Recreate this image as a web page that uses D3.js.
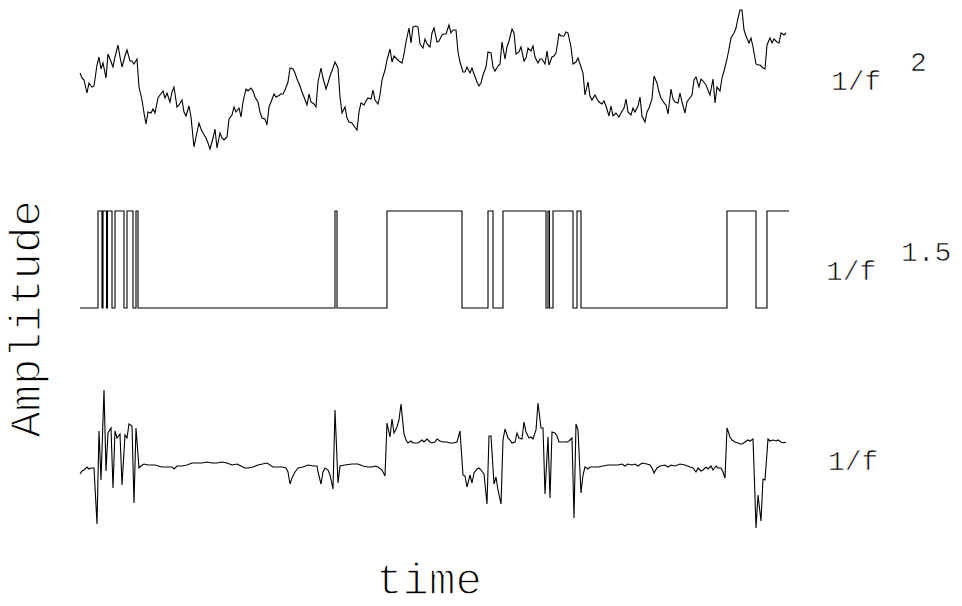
<!DOCTYPE html>
<html><head><meta charset="utf-8">
<script src="https://cdn.jsdelivr.net/npm/d3@7"></script>
<style>html,body{margin:0;padding:0;background:#fff;}svg{display:block;}</style>
</head><body>
<script>
// time (samples) and amplitude for each noise series
const brownNoise = [[0,77],[2,72],[4,70],[7,57],[9,67],[12,63],[14,64],[17,85],[19,93],[21,81],[23,87],[26,72],[28,96],[30,91],[33,83],[35,93],[38,105],[40,93],[42,83],[45,94],[47,100],[50,89],[52,89],[54,86],[57,91],[59,63],[62,50],[64,37],[66,26],[68,38],[71,37],[73,41],[75,37],[78,52],[80,55],[83,59],[85,52],[87,57],[90,48],[92,58],[94,63],[97,43],[99,45],[102,50],[104,38],[106,34],[109,44],[111,33],[114,3],[116,13],[119,27],[121,21],[123,17],[126,12],[128,7],[130,1],[133,12],[135,21],[137,2],[140,17],[142,12],[144,10],[147,13],[149,31],[152,35],[154,43],[156,38],[159,42],[161,33],[163,48],[166,61],[168,59],[171,62],[173,59],[175,53],[178,48],[180,38],[182,32],[185,31],[187,25],[189,43],[191,48],[194,56],[196,53],[198,54],[201,56],[203,56],[205,60],[208,68],[210,82],[213,81],[215,77],[217,71],[220,64],[222,58],[224,53],[227,45],[229,56],[231,48],[234,46],[236,43],[238,68],[241,82],[243,72],[246,61],[248,67],[250,74],[253,82],[255,88],[258,82],[260,53],[262,37],[265,43],[267,32],[269,28],[272,27],[274,24],[277,20],[279,38],[281,47],[284,45],[286,49],[288,52],[291,51],[293,60],[295,50],[298,46],[300,55],[302,70],[305,80],[307,90],[310,101],[312,88],[314,94],[317,91],[319,89],[322,87],[324,96],[326,108],[329,122],[331,107],[333,123],[336,124],[338,123],[340,106],[343,102],[345,111],[347,106],[350,103],[352,117],[354,122],[357,108],[359,109],[362,115],[364,116],[366,116],[369,125],[371,117],[373,120],[376,120],[378,98],[380,88],[383,78],[385,78],[387,83],[390,77],[392,82],[394,76],[397,68],[399,64],[401,67],[403,75],[406,83],[408,98],[411,97],[413,83],[415,79],[418,84],[420,86],[422,108],[425,91],[427,103],[429,109],[432,121],[434,117],[436,96],[439,98],[441,103],[444,89],[446,92],[448,102],[451,99],[453,104],[455,93],[458,87],[460,91],[462,91],[465,86],[467,99],[469,85],[472,93],[474,94],[476,97],[479,116],[481,114],[484,114],[486,118],[488,117],[491,103],[493,86],[496,88],[498,92],[501,83],[503,77],[505,55],[508,68],[510,54],[512,50],[515,55],[517,51],[519,48],[522,46],[524,49],[526,44],[529,34],[531,44],[533,34],[536,37],[539,33],[541,37],[544,42],[546,51],[548,38],[551,35],[553,42],[555,38],[558,44],[560,53],[562,34],[565,28],[567,38],[569,42],[572,51],[574,74],[577,67],[579,58],[581,52],[584,47],[586,45],[588,36],[591,61],[593,51],[595,48],[598,47],[600,57],[602,48],[605,37],[607,48],[609,51],[612,55],[614,70],[616,73],[619,63],[621,71],[623,69],[626,65],[628,60],[630,55],[633,71],[635,47],[637,63],[640,59],[642,72],[644,79],[647,91],[649,101],[651,112],[654,117],[656,122],[658,132],[660,140],[662,140],[664,120],[666,114],[669,107],[671,112],[673,103],[676,86],[678,85],[680,85],[683,82],[685,81],[687,105],[690,112],[692,107],[694,111],[697,108],[699,107],[701,117],[704,115],[706,117]];

// two-state signal: times at which the level toggles (starts low), and end time
const telegraphToggles = [18,22,23,26.5,27.5,32,35,44,47,53,56,58,255,257,307,382,408,413,423,466,468,469.5,473,493,497,501,647,676,687];
const telegraphEnd = 709;

const pinkNoise = [[0,56],[2,59],[4,60],[7,63],[9,61],[11,62],[14,62],[17,6],[19,99],[21,50],[24,140],[26,59],[28,97],[31,102],[33,42],[35,99],[37,92],[40,96],[42,45],[45,95],[47,92],[49,106],[52,104],[54,27],[56,102],[59,62],[61,64],[64,66],[68,65],[75,65],[82,63],[87,63],[92,63],[94,61],[97,64],[102,64],[107,65],[112,67],[117,67],[122,67],[127,68],[132,67],[137,67],[142,68],[147,67],[152,65],[157,66],[161,64],[165,62],[168,62],[173,63],[178,65],[187,67],[193,63],[202,63],[206,62],[208,58],[210,46],[212,52],[215,58],[218,62],[223,63],[228,65],[233,64],[237,64],[238,58],[241,46],[243,58],[245,62],[248,60],[250,55],[253,41],[255,120],[258,47],[260,64],[265,65],[272,66],[278,66],[283,64],[288,63],[292,63],[295,64],[298,63],[302,60],[305,54],[307,107],[310,93],[312,111],[314,97],[317,103],[319,110],[321,126],[324,96],[326,90],[328,87],[331,89],[333,87],[338,87],[342,90],[344,88],[347,91],[350,88],[352,87],[355,88],[357,91],[360,89],[363,88],[367,88],[370,87],[373,87],[377,88],[380,99],[383,55],[385,54],[387,43],[390,55],[392,47],[394,57],[397,61],[399,62],[401,60],[404,56],[407,26],[409,94],[411,94],[414,46],[416,53],[418,40],[421,26],[423,90],[425,101],[428,92],[430,90],[432,87],[435,88],[437,97],[439,92],[442,91],[444,108],[446,98],[449,92],[451,93],[453,91],[456,100],[458,127],[461,102],[463,102],[465,36],[468,93],[470,32],[472,98],[475,97],[477,94],[479,88],[483,88],[487,88],[489,89],[492,92],[494,12],[496,106],[498,100],[501,37],[503,55],[505,63],[508,61],[510,63],[513,63],[518,63],[523,64],[528,65],[533,65],[538,65],[542,66],[545,64],[548,66],[552,65],[555,66],[558,64],[562,67],[567,66],[570,65],[572,62],[574,57],[577,62],[580,64],[585,65],[588,63],[591,65],[595,64],[600,66],[605,65],[610,63],[613,62],[616,58],[618,62],[621,59],[623,60],[626,63],[628,61],[631,64],[633,60],[636,64],[638,62],[641,62],[643,58],[645,52],[647,102],[650,93],[652,90],[655,88],[658,87],[660,86],[662,86],[665,88],[668,90],[670,89],[673,91],[675,33],[676,2],[678,35],[681,9],[683,51],[685,50],[688,91],[690,89],[693,90],[696,89],[698,90],[701,88],[704,87],[706,88]];

const seriesLabels = [
  {base: "1/f", exp: "2"},
  {base: "1/f", exp: "1.5"},
  {base: "1/f", exp: ""}
];
const xTitle = "time";
const yTitle = "Amplitude";

const W = 962, H = 606;
const svg = d3.select("body").append("svg").attr("width", W).attr("height", H);
const font = "'Liberation Mono', 'Courier New', monospace";

const x = d3.scaleLinear().domain([0, 706]).range([80, 786]);
const yTop = d3.scaleLinear().domain([0, 140]).range([150, 10]);
const yMid = d3.scaleLinear().domain([0, 1]).range([308, 211]);
const yBot = d3.scaleLinear().domain([0, 140]).range([530, 390]);

function drawLine(data, ys, curve) {
  svg.append("path")
    .datum(data)
    .attr("fill", "none")
    .attr("stroke", "#000")
    .attr("stroke-width", 1.1)
    .attr("stroke-linejoin", "miter")
    .attr("d", d3.line().x(d => x(d[0])).y(d => ys(d[1])).curve(curve || d3.curveLinear));
}

drawLine(brownNoise, yTop);

// build telegraph points
const tele = [[0, 0]];
let lvl = 0;
telegraphToggles.forEach(t => { lvl = 1 - lvl; tele.push([t, lvl]); });
tele.push([telegraphEnd, lvl]);
drawLine(tele, yMid, d3.curveStepAfter);

drawLine(pinkNoise, yBot);

function thinText(sel, w) {
  return sel.attr("fill", "#000").attr("stroke", "#fff").attr("stroke-width", w)
    .attr("paint-order", "normal");
}

// labels
const labelPos = [
  {x: 831, y: 90, ex: 910, ey: 71},
  {x: 826, y: 280, ex: 901, ey: 261},
  {x: 828, y: 470}
];
seriesLabels.forEach((l, i) => {
  const p = labelPos[i];
  thinText(svg.append("text").attr("x", p.x).attr("y", p.y)
    .attr("font-family", font).attr("font-size", 28), 0.7)
    .text(l.base);
  if (l.exp) {
    thinText(svg.append("text").attr("x", p.ex).attr("y", p.ey)
      .attr("font-family", font).attr("font-size", 28), 0.7)
      .text(l.exp);
  }
});

thinText(svg.append("text")
  .attr("x", 429).attr("y", 594)
  .attr("text-anchor", "middle")
  .attr("font-family", font).attr("font-size", 44), 1.4)
  .text(xTitle);

thinText(svg.append("text")
  .attr("transform", "translate(40,319) rotate(-90)")
  .attr("text-anchor", "middle")
  .attr("font-family", font).attr("font-size", 44), 1.4)
  .text(yTitle);
</script>
</body></html>
